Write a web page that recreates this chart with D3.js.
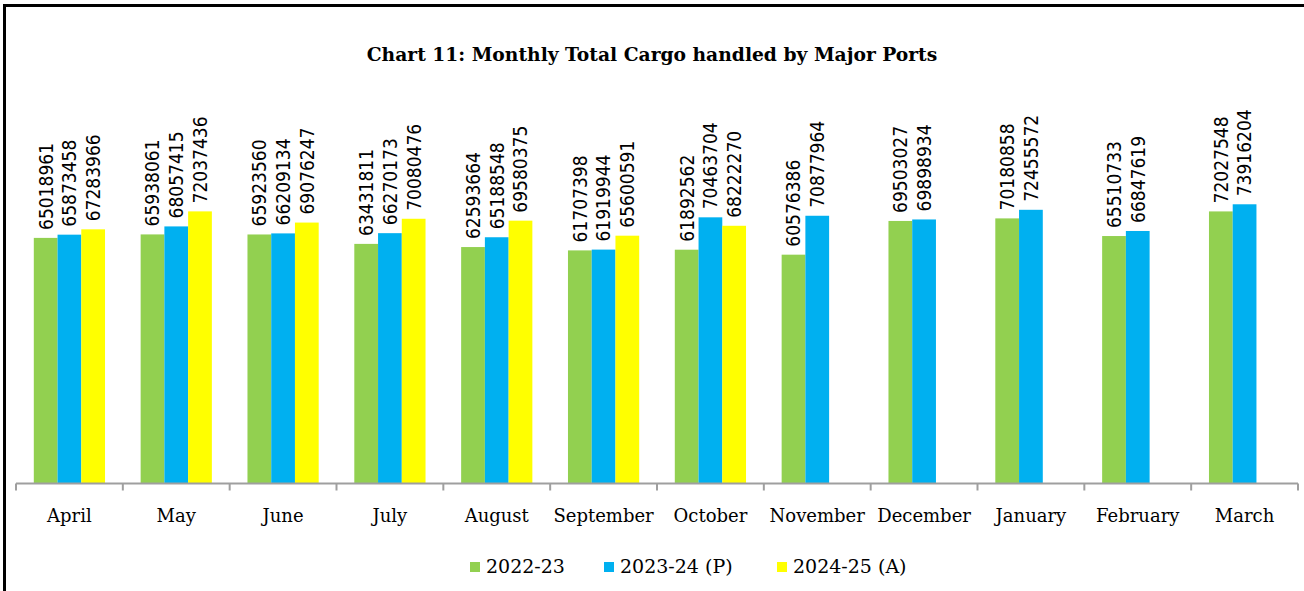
<!DOCTYPE html>
<html><head><meta charset="utf-8">
<script src="https://cdn.jsdelivr.net/npm/d3@7"></script>
<style>html,body{margin:0;padding:0;background:#fff;overflow:hidden}</style>
</head><body>
<svg id="c" width="1304" height="591"></svg>
<script>
const months = ["April","May","June","July","August","September","October","November","December","January","February","March"];
const seriesNames = ["2022-23","2023-24 (P)","2024-25 (A)"];
const s2022 = [65018961,65938061,65923560,63431811,62593664,61707398,61892562,60576386,69503027,70180858,65510733,72027548];
const s2023 = [65873458,68057415,66209134,66270173,65188548,61919944,70463704,70877964,69898934,72455572,66847619,73916204];
const s2024 = [67283966,72037436,69076247,70080476,69580375,65600591,68222270,null,null,null,null,null];
const colors = ["#92D050","#00B0F0","#FFFF00"];
const title = "Chart 11: Monthly Total Cargo handled by Major Ports";

const svg = d3.select("#c");
svg.append("rect").attr("x",4.5).attr("y",5.5).attr("width",1320).attr("height",620)
  .attr("fill","#fff").attr("stroke","#000").attr("stroke-width",3);

const baseY = 483.5;
const x = d3.scaleBand().domain(months).range([16,1298]).padding(0);
const bw = x.bandwidth()/4.5;
const xs = d3.scaleBand().domain(seriesNames).range([bw*0.75, x.bandwidth()-bw*0.75]).padding(0);
const y = d3.scaleLinear().domain([0,80000000]).range([baseY, baseY-302.2]);

const data = [s2022,s2023,s2024];
const flat = [];
data.forEach((arr,si)=>arr.forEach((v,mi)=>{ if(v!=null) flat.push({m:months[mi],s:seriesNames[si],si,v}); }));

svg.append("g").selectAll("rect").data(flat).join("rect")
  .attr("x",d=>x(d.m)+xs(d.s)).attr("width",xs.bandwidth())
  .attr("y",d=>y(d.v)).attr("height",d=>baseY-y(d.v))
  .attr("fill",d=>colors[d.si]);

// data labels
svg.append("g").selectAll("text").data(flat).join("text")
  .attr("transform",d=>`translate(${x(d.m)+xs(d.s)+xs.bandwidth()/2},${y(d.v)-8}) rotate(-90)`)
  .attr("dy","0.36em")
  .attr("text-anchor","start")
  .style("font-family","'DejaVu Sans Condensed','DejaVu Sans',sans-serif")
  .style("font-stretch","condensed")
  .style("font-size","19px")
  .attr("fill","#000")
  .text(d=>d.v);

// axis
const ax = svg.append("g");
ax.append("line").attr("x1",x.range()[0]).attr("x2",x.range()[1]).attr("y1",baseY).attr("y2",baseY)
  .attr("stroke","#9f9f9f").attr("stroke-width",2);
const tickXs = months.map(m=>x(m)).concat([x.range()[1]]);
ax.selectAll("line.t").data(tickXs).join("line").attr("class","t")
  .attr("x1",d=>d).attr("x2",d=>d).attr("y1",baseY).attr("y2",baseY+7)
  .attr("stroke","#9f9f9f").attr("stroke-width",2);
ax.selectAll("text").data(months).join("text")
  .attr("x",d=>x(d)+x.bandwidth()/2).attr("y",522)
  .attr("text-anchor","middle")
  .style("font-family","'DejaVu Serif',serif").style("font-size","18px")
  .attr("fill","#000").text(d=>d);

// title
svg.append("text").attr("x",652).attr("y",61).attr("text-anchor","middle")
  .style("font-family","'DejaVu Serif',serif").style("font-weight","bold").style("font-size","18.7px")
  .attr("fill","#000").text(title);

// legend
const legX = [470,604,777];
const lg = svg.append("g");
seriesNames.forEach((n,i)=>{
  lg.append("rect").attr("x",legX[i]).attr("y",562).attr("width",10).attr("height",10).attr("fill",colors[i]);
  lg.append("text").attr("x",legX[i]+16).attr("y",573)
    .style("font-family","'DejaVu Serif',serif").style("font-size","19px")
    .attr("fill","#000").text(n);
});
</script>
</body></html>
